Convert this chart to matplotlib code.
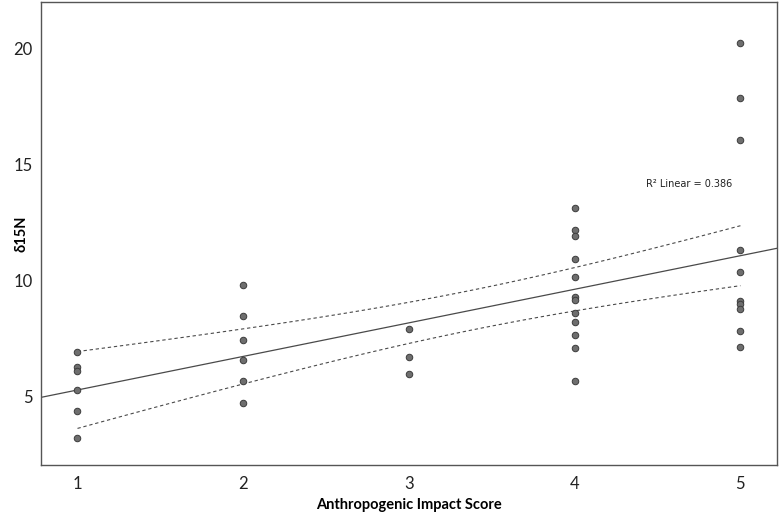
import numpy as np
import matplotlib
matplotlib.use("Agg")
import matplotlib.pyplot as plt

# =====================================
# Data
# =====================================

score_1 = [6.94, 6.28, 6.11, 5.30, 4.40, 3.25]
score_2 = [9.81, 8.48, 7.44, 6.58, 5.70, 4.73]
score_3 = [7.92, 6.74, 5.99]
score_4 = [13.13, 12.17, 11.94, 10.95, 10.16, 9.30, 9.18, 8.61, 8.22, 7.67, 7.10, 5.70]
score_5 = [20.25, 17.85, 16.05, 11.32, 10.37, 9.13, 9.00, 8.78, 7.86, 7.14]

groups = [score_1, score_2, score_3, score_4, score_5]
scores = [1, 2, 3, 4, 5]

# fit as drawn in the reference (some points overlap, so the
# visible points alone do not reproduce it exactly)
fit_intercept = 3.855
fit_slope = 1.445
fit_se = 2.57
r2_text = "R\u00b2 Linear = 0.386"

x = np.concatenate([[s] * len(g) for s, g in zip(scores, groups)]).astype(float)
y = np.concatenate(groups)

# =====================================
# Linear fit with 95% CI of the mean
# =====================================

n = len(x)
x_mean = x.mean()
sxx = np.sum((x - x_mean) ** 2)
t_val = 2.028  # t(0.975, df=36)

x_line = np.linspace(0.78, 5.22, 50)
y_line = fit_slope * x_line + fit_intercept

x_ci = np.linspace(1, 5, 50)
y_ci = fit_slope * x_ci + fit_intercept
half = t_val * fit_se * np.sqrt(1 / n + (x_ci - x_mean) ** 2 / sxx)

# =====================================
# Plot
# =====================================

fig = plt.figure(figsize=(7.8, 5.14), dpi=100)
ax = fig.add_axes([0.0526, 0.0953, 0.9434, 0.9008])

ax.plot(x_line, y_line, color="#4a4a4a", linewidth=0.9, zorder=2)
ax.plot(x_ci, y_ci + half, color="#4a4a4a", linewidth=0.8,
        linestyle=(0, (3, 2.5)), zorder=2)
ax.plot(x_ci, y_ci - half, color="#4a4a4a", linewidth=0.8,
        linestyle=(0, (3, 2.5)), zorder=2)

ax.scatter(x, y, s=22, color="#6e6e6e", edgecolor="#3c3c3c",
           linewidth=0.7, zorder=3)

ax.text(4.43, 14.16, r2_text, fontsize=7,
        family="DejaVu Sans", color="#222222", va="center")

ax.set_xlim(0.78, 5.22)
ax.set_ylim(2.07, 22.0)
ax.set_xticks(scores)
ax.set_yticks([5, 10, 15, 20])

ax.tick_params(length=0, labelsize=12, colors="#222222")
ax.tick_params(axis="x", pad=8)
ax.tick_params(axis="y", pad=6)
for lab in ax.get_xticklabels() + ax.get_yticklabels():
    lab.set_family("Lato")

ax.set_xlabel("Anthropogenic Impact Score", fontsize=10.5,
              fontweight="bold", family="Lato", va="center")
ax.set_ylabel("\u03b415N", fontsize=10.5, fontweight="bold",
              family="Lato", va="center")
ax.xaxis.set_label_coords(0.5, -0.087)
ax.yaxis.set_label_coords(-0.026, 0.5)

for sp in ax.spines.values():
    sp.set_color("#555555")
    sp.set_linewidth(1.0)

plt.savefig("out.png", dpi=100)
